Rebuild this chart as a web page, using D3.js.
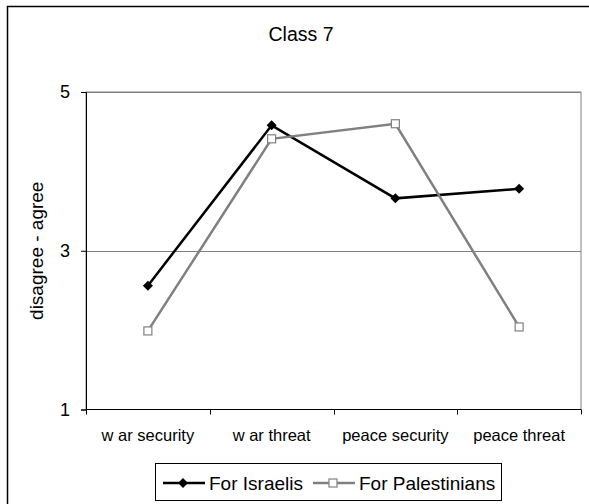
<!DOCTYPE html>
<html>
<head>
<meta charset="utf-8">
<script src="https://cdn.jsdelivr.net/npm/d3@7"></script>
<style>
  body { margin: 0; background: #fff; }
  text { font-family: Arial, "Liberation Sans", sans-serif; }
</style>
</head>
<body>
<div id="chart"></div>
<script>
// data
const categories = ['w ar security', 'w ar threat', 'peace security', 'peace threat'];
const israelis = [2.56, 4.58, 3.66, 3.78];
const palestinians = [1.99, 4.41, 4.60, 2.04];
const y_ticks = [1, 3, 5];

const width = 589, height = 504;
const margin = {top: 92, right: 8, bottom: 94.5, left: 86};

const svg = d3.select('#chart').append('svg')
  .attr('width', width)
  .attr('height', height);

// outer chart frame (runs off the right and bottom edges)
svg.append('rect')
  .attr('x', 7.5).attr('y', 6.5)
  .attr('width', 600).attr('height', 520)
  .attr('fill', 'none')
  .attr('stroke', '#000')
  .attr('stroke-width', 1.5);

const x = d3.scaleBand()
  .domain(categories)
  .range([margin.left, width - margin.right]);

const y = d3.scaleLinear()
  .domain([1, 5])
  .range([height - margin.bottom, margin.top]);

const cx = d => x(d) + x.bandwidth() / 2;

// plot area frame
svg.append('rect')
  .attr('x', margin.left).attr('y', margin.top)
  .attr('width', width - margin.right - margin.left)
  .attr('height', y(1) - y(5))
  .attr('fill', 'none')
  .attr('stroke', '#808080')
  .attr('stroke-width', 1);

// horizontal gridlines
svg.append('g')
  .selectAll('line')
  .data(y_ticks.filter(d => d > 1))
  .join('line')
  .attr('x1', margin.left)
  .attr('x2', width - margin.right)
  .attr('y1', d => Math.round(y(d)) + 0.5)
  .attr('y2', d => Math.round(y(d)) + 0.5)
  .attr('stroke', '#808080');

// y axis
const yAxis = svg.append('g')
  .attr('transform', `translate(${margin.left},0)`)
  .call(d3.axisLeft(y).tickValues(y_ticks).tickSize(5).tickFormat(d3.format('d')));
yAxis.selectAll('path, line').attr('stroke', '#000');
yAxis.selectAll('text')
  .attr('font-size', 18)
  .attr('font-family', 'Arial, "Liberation Sans", sans-serif')
  .attr('fill', '#000')
  .attr('x', -16);

// x axis, ticks sit on the band edges
const xAxis = svg.append('g')
  .attr('transform', `translate(0,${y(1)})`);
xAxis.append('line')
  .attr('x1', margin.left).attr('x2', width - margin.right)
  .attr('stroke', '#000');
const edges = categories.map(d => x(d)).concat([x(categories[categories.length - 1]) + x.bandwidth()]);
xAxis.selectAll('line.tick')
  .data(edges)
  .join('line')
  .attr('class', 'tick')
  .attr('x1', d => Math.round(d) + 0.5)
  .attr('x2', d => Math.round(d) + 0.5)
  .attr('y1', 0).attr('y2', 5)
  .attr('stroke', '#000');
xAxis.selectAll('text')
  .data(categories)
  .join('text')
  .attr('x', cx)
  .attr('y', 31.5)
  .attr('text-anchor', 'middle')
  .attr('font-size', 16.5)
  .text(d => d);

// title and axis label
svg.append('text')
  .attr('x', 301).attr('y', 41)
  .attr('text-anchor', 'middle')
  .attr('font-size', 19.5)
  .text('Class 7');

svg.append('text')
  .attr('transform', `translate(43,${(y(1) + y(5)) / 2}) rotate(-90)`)
  .attr('text-anchor', 'middle')
  .attr('font-size', 19)
  .text('disagree - agree');

// series
const line = d3.line()
  .x((d, i) => cx(categories[i]))
  .y(d => y(d));

const series = [
  {name: 'For Israelis', values: israelis, color: '#000', marker: 'diamond'},
  {name: 'For Palestinians', values: palestinians, color: '#808080', marker: 'square'},
];

function drawMarker(g, s) {
  if (s.marker === 'diamond') {
    g.append('path')
      .attr('d', 'M0,-5L5,0L0,5L-5,0Z')
      .attr('fill', '#000');
  } else {
    g.append('rect')
      .attr('x', -4).attr('y', -4)
      .attr('width', 8).attr('height', 8)
      .attr('fill', '#fff')
      .attr('stroke', s.color)
      .attr('stroke-width', 1.2);
  }
}

series.forEach(s => {
  svg.append('path')
    .datum(s.values)
    .attr('d', line)
    .attr('fill', 'none')
    .attr('stroke', s.color)
    .attr('stroke-width', 2.5)
    .attr('stroke-linejoin', 'miter');
  s.values.forEach((v, i) => {
    const g = svg.append('g')
      .attr('transform', `translate(${cx(categories[i])},${y(v)})`);
    drawMarker(g, s);
  });
});

// legend
const legend = svg.append('g');
legend.append('rect')
  .attr('x', 155.5).attr('y', 463.5)
  .attr('width', 346).attr('height', 37)
  .attr('fill', '#fff')
  .attr('stroke', '#000')
  .attr('stroke-width', 1);

const legend_x = [163, 313];
series.forEach((s, i) => {
  const g = legend.append('g').attr('transform', `translate(${legend_x[i]},483)`);
  g.append('line')
    .attr('x1', 0).attr('x2', 42)
    .attr('stroke', s.color)
    .attr('stroke-width', 2.5);
  const m = g.append('g').attr('transform', 'translate(20,0)');
  drawMarker(m, s);
  g.append('text')
    .attr('x', 46).attr('y', 6.5)
    .attr('font-size', 19)
    .text(s.name);
});
</script>
</body>
</html>
